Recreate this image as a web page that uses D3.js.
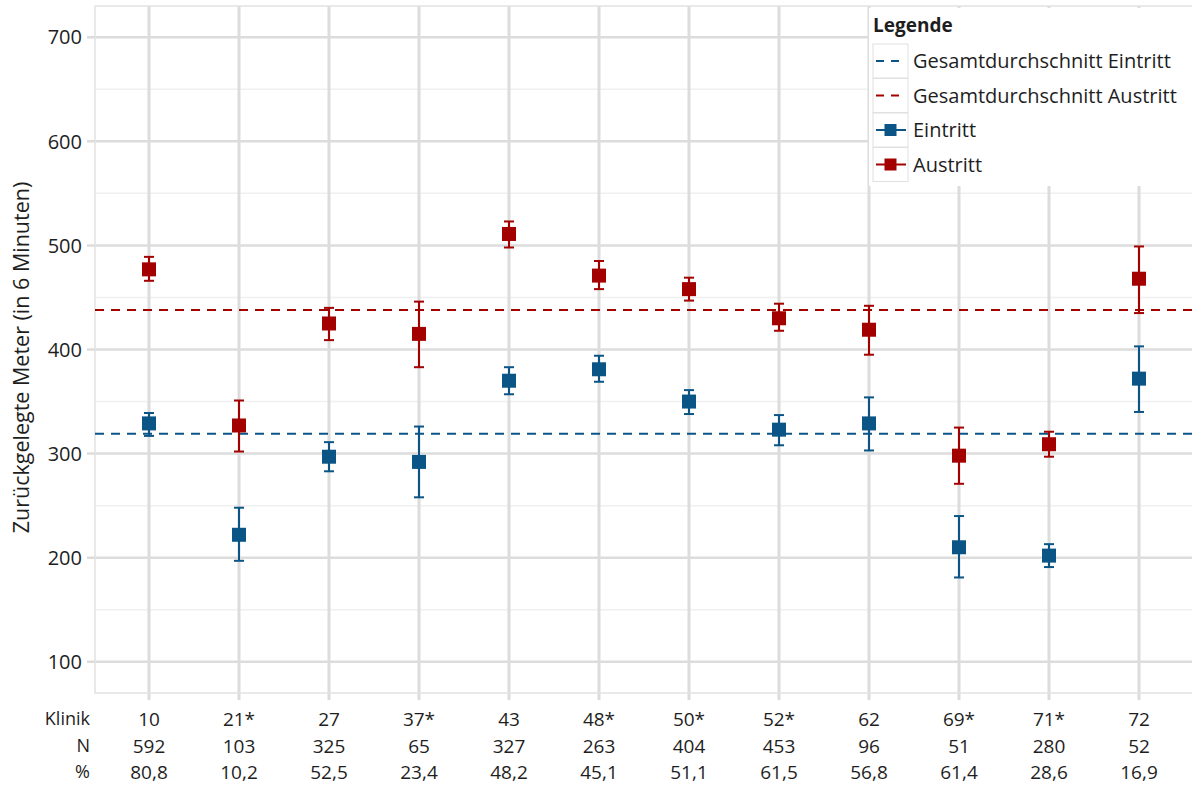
<!DOCTYPE html>
<html>
<head>
<meta charset="utf-8">
<script src="https://cdn.jsdelivr.net/npm/d3@7"></script>
<style>
  body { margin: 0; background: #fff; }
  text { font-family: "Open Sans", "Noto Sans", sans-serif; fill: #1e1e1e; }
</style>
</head>
<body>
<div id="chart"></div>
<script>
// Kliniken und Tabellenzeilen
const klinik = ["10", "21*", "27", "37*", "43", "48*", "50*", "52*", "62", "69*", "71*", "72"];
const nWerte = ["592", "103", "325", "65", "327", "263", "404", "453", "96", "51", "280", "52"];
const prozent = ["80,8", "10,2", "52,5", "23,4", "48,2", "45,1", "51,1", "61,5", "56,8", "61,4", "28,6", "16,9"];

// Eintritt: Mittelwert und Fehlerbalken
const eintrittMittel = [329, 222, 297, 292, 370, 381, 350, 323, 329, 210, 202, 372];
const eintrittOben   = [339, 248, 311, 326, 383, 394, 361, 337, 354, 240, 213, 403];
const eintrittUnten  = [317, 197, 283, 258, 357, 369, 338, 308, 303, 181, 191, 340];

// Austritt: Mittelwert und Fehlerbalken
const austrittMittel = [477, 327, 425, 415, 511, 471, 458, 430, 419, 298, 309, 468];
const austrittOben   = [489, 351, 440, 446, 523, 485, 469, 444, 442, 325, 321, 499];
const austrittUnten  = [466, 302, 409, 383, 498, 458, 447, 418, 395, 271, 297, 435];

// Gesamtdurchschnitte
const gesamtEintritt = 319;
const gesamtAustritt = 438;

const yTicks = [100, 200, 300, 400, 500, 600, 700];
const yMinor = [150, 250, 350, 450, 550, 650];

const blau = "#0b5586";
const rot = "#a30000";

const width = 1192, height = 785;
const links = 95, rechts = 1193, oben = 6, unten = 693;

const svg = d3.select("#chart").append("svg")
  .attr("width", width)
  .attr("height", height);

// Skalen
const xScale = d3.scalePoint()
  .domain(klinik)
  .range([links, rechts])
  .padding(0.6);

const yScale = d3.scaleLinear()
  .domain([70, 730])
  .range([unten, oben]);

// Hilfslinien
svg.append("g").selectAll("line")
  .data(yMinor)
  .join("line")
  .attr("x1", links).attr("x2", rechts)
  .attr("y1", d => yScale(d)).attr("y2", d => yScale(d))
  .attr("stroke", "#f0f0f0")
  .attr("stroke-width", 1.5);

svg.append("g").selectAll("line")
  .data(yTicks)
  .join("line")
  .attr("x1", links - 8).attr("x2", rechts)
  .attr("y1", d => yScale(d)).attr("y2", d => yScale(d))
  .attr("stroke", "#dcdcdc")
  .attr("stroke-width", 2.5);

svg.append("g").selectAll("line")
  .data(klinik)
  .join("line")
  .attr("x1", d => xScale(d)).attr("x2", d => xScale(d))
  .attr("y1", oben).attr("y2", unten + 7)
  .attr("stroke", "#dcdcdc")
  .attr("stroke-width", 3);

// Rahmen
svg.append("path")
  .attr("d", `M${links},${oben}H${rechts}M${links},${oben}V${unten}H${rechts}`)
  .attr("fill", "none")
  .attr("stroke", "#e2e2e2")
  .attr("stroke-width", 1.5);

// y-Achse Beschriftung
svg.append("g").selectAll("text")
  .data(yTicks)
  .join("text")
  .attr("x", links - 13)
  .attr("y", d => yScale(d))
  .attr("dy", "0.36em")
  .attr("text-anchor", "end")
  .style("font-size", "20px")
  .text(d => d);

svg.append("text")
  .attr("transform", `translate(29,${(oben + unten) / 2 + 8}) rotate(-90)`)
  .attr("text-anchor", "middle")
  .style("font-size", "21.5px")
  .text("Zurückgelegte Meter (in 6 Minuten)");

// Durchschnittslinien
[[gesamtEintritt, blau], [gesamtAustritt, rot]].forEach(([wert, farbe]) => {
  svg.append("line")
    .attr("x1", links).attr("x2", rechts)
    .attr("y1", yScale(wert)).attr("y2", yScale(wert))
    .attr("stroke", farbe)
    .attr("stroke-width", 2)
    .attr("stroke-dasharray", "9,7");
});

// Fehlerbalken mit Quadraten
function serie(mittel, hoch, tief, farbe) {
  const daten = klinik.map((k, i) => ({ k: k, m: mittel[i], o: hoch[i], u: tief[i] }));
  const g = svg.append("g").attr("stroke", farbe).attr("fill", farbe);
  const el = g.selectAll("g").data(daten).join("g");
  el.append("line")
    .attr("x1", d => xScale(d.k)).attr("x2", d => xScale(d.k))
    .attr("y1", d => yScale(d.o)).attr("y2", d => yScale(d.u))
    .attr("stroke-width", 2);
  el.append("line")
    .attr("x1", d => xScale(d.k) - 5).attr("x2", d => xScale(d.k) + 5)
    .attr("y1", d => yScale(d.o)).attr("y2", d => yScale(d.o))
    .attr("stroke-width", 2);
  el.append("line")
    .attr("x1", d => xScale(d.k) - 5).attr("x2", d => xScale(d.k) + 5)
    .attr("y1", d => yScale(d.u)).attr("y2", d => yScale(d.u))
    .attr("stroke-width", 2);
  el.append("rect")
    .attr("x", d => xScale(d.k) - 7)
    .attr("y", d => yScale(d.m) - 7)
    .attr("width", 14).attr("height", 14)
    .attr("stroke", "none");
}
serie(eintrittMittel, eintrittOben, eintrittUnten, blau);
serie(austrittMittel, austrittOben, austrittUnten, rot);

// Tabelle unter der Achse
const zeilen = [["Klinik", klinik, 719], ["N", nWerte, 746], ["%", prozent, 772]];
zeilen.forEach(([name, werte, y]) => {
  svg.append("text")
    .attr("x", 90).attr("y", y)
    .attr("dy", "0.35em")
    .attr("text-anchor", "end")
    .style("font-size", "18px")
    .text(name);
  svg.append("g").selectAll("text")
    .data(werte)
    .join("text")
    .attr("x", (d, i) => xScale(klinik[i]))
    .attr("y", y)
    .attr("dy", "0.35em")
    .attr("text-anchor", "middle")
    .style("font-size", "19px")
    .text(d => d);
});

// Legende
const legende = svg.append("g");
legende.append("rect")
  .attr("x", 869).attr("y", 8)
  .attr("width", 330).attr("height", 178)
  .attr("fill", "#fff");
legende.append("text")
  .attr("x", 873).attr("y", 25)
  .attr("dy", "0.35em")
  .style("font-size", "19px")
  .style("font-weight", "bold")
  .text("Legende");

const eintraege = [
  { name: "Gesamtdurchschnitt Eintritt", farbe: blau, typ: "linie" },
  { name: "Gesamtdurchschnitt Austritt", farbe: rot, typ: "linie" },
  { name: "Eintritt", farbe: blau, typ: "punkt" },
  { name: "Austritt", farbe: rot, typ: "punkt" }
];
const zeile = legende.selectAll("g.eintrag")
  .data(eintraege)
  .join("g")
  .attr("class", "eintrag")
  .attr("transform", (d, i) => `translate(873,${44 + i * 34.5})`);
zeile.append("rect")
  .attr("width", 35).attr("height", 34)
  .attr("fill", "#fff")
  .attr("stroke", "#e0e0e0");
zeile.filter(d => d.typ === "linie").append("line")
  .attr("x1", 3).attr("x2", 33).attr("y1", 17).attr("y2", 17)
  .attr("stroke", d => d.farbe)
  .attr("stroke-width", 2)
  .attr("stroke-dasharray", "8,7");
zeile.filter(d => d.typ === "punkt").append("line")
  .attr("x1", 3).attr("x2", 33).attr("y1", 17).attr("y2", 17)
  .attr("stroke", d => d.farbe)
  .attr("stroke-width", 2);
zeile.filter(d => d.typ === "punkt").append("rect")
  .attr("x", 11.5).attr("y", 11).attr("width", 12).attr("height", 12)
  .attr("fill", d => d.farbe);
zeile.append("text")
  .attr("x", 40).attr("y", 17)
  .attr("dy", "0.35em")
  .style("font-size", "20px")
  .text(d => d.name);
</script>
</body>
</html>
